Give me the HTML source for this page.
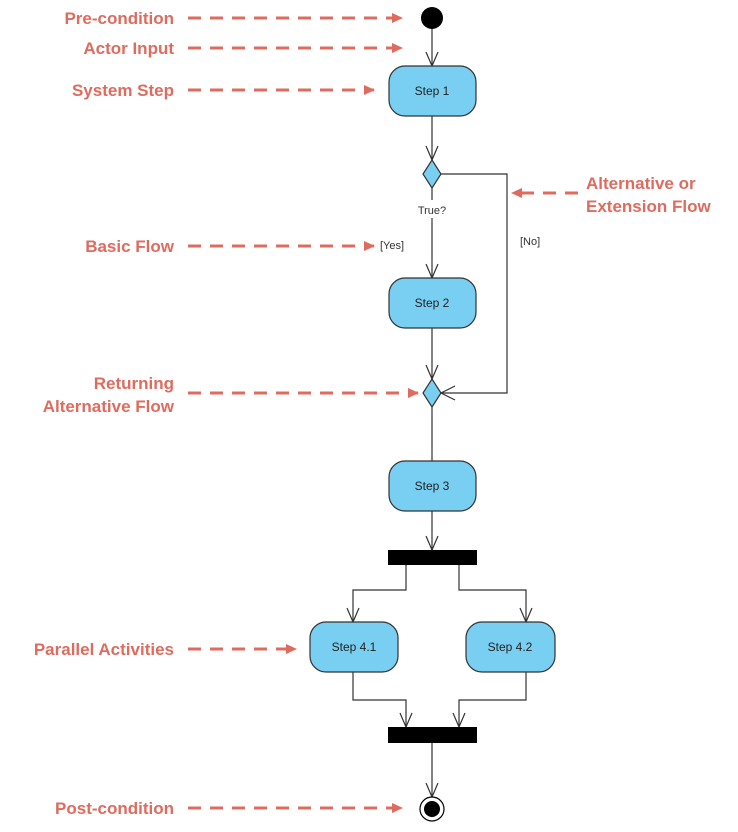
<!DOCTYPE html>
<html><head><meta charset="utf-8"><style>
html,body{margin:0;padding:0;background:#fff;}
svg{display:block;}
.lbl{font-family:"Liberation Sans",sans-serif;font-weight:bold;font-size:17px;fill:#df6b5f;}
.st{font-family:"Liberation Sans",sans-serif;font-size:12px;fill:#222;}
.sm{font-family:"Liberation Sans",sans-serif;font-size:11px;fill:#333;}
</style></head><body>
<svg width="738" height="832" viewBox="0 0 738 832" xmlns="http://www.w3.org/2000/svg">
<defs>
<marker id="ra" markerWidth="12" markerHeight="12" refX="10" refY="6" orient="auto" markerUnits="userSpaceOnUse"><path d="M0,1 L11,6 L0,11 z" fill="#df6b5f"/></marker>
</defs>
<g stroke="#df6b5f" stroke-width="3" stroke-dasharray="13,9" fill="none" marker-end="url(#ra)">
<line x1="188" y1="18" x2="402" y2="18"/>
<line x1="188" y1="48" x2="402" y2="48"/>
<line x1="188" y1="90" x2="374" y2="90"/>
<line x1="188" y1="246" x2="374" y2="246"/>
<line x1="188" y1="393" x2="418" y2="393"/>
<line x1="188" y1="649" x2="296" y2="649"/>
<line x1="188" y1="808" x2="402" y2="808"/>
<line x1="578" y1="193" x2="512" y2="193"/>
</g>
<g class="lbl" text-anchor="end">
<text x="174" y="24">Pre-condition</text>
<text x="174" y="54">Actor Input</text>
<text x="174" y="96">System Step</text>
<text x="174" y="252">Basic Flow</text>
<text x="174" y="389">Returning</text>
<text x="174" y="412">Alternative Flow</text>
<text x="174" y="655">Parallel Activities</text>
<text x="174" y="814">Post-condition</text>
</g>
<g class="lbl"><text x="586" y="189">Alternative or</text><text x="586" y="212">Extension Flow</text></g>

<g stroke="#333" stroke-width="1.2" fill="none">
<line x1="432" y1="29" x2="432" y2="66"/>
<path d="M426,52 L432,66 L438,52"/>
<line x1="432" y1="116" x2="432" y2="160"/>
<path d="M426,146 L432,160 L438,146"/>
<line x1="432" y1="188" x2="432" y2="200"/>
<line x1="432" y1="218" x2="432" y2="278"/>
<path d="M426,264 L432,278 L438,264"/>
<line x1="432" y1="328" x2="432" y2="379"/>
<path d="M426,365 L432,379 L438,365"/>
<path d="M441,174 L507,174 L507,393 L441,393"/>
<path d="M455,386 L441,393 L455,400"/>
<line x1="432" y1="407" x2="432" y2="461"/>
<line x1="432" y1="511" x2="432" y2="550"/>
<path d="M426,536 L432,550 L438,536"/>
<path d="M406,565 L406,590 L353,590 L353,622"/>
<path d="M347,608 L353,622 L359,608"/>
<path d="M459,565 L459,590 L526,590 L526,622"/>
<path d="M520,608 L526,622 L532,608"/>
<path d="M353,672 L353,700 L406,700 L406,727"/>
<path d="M400,713 L406,727 L412,713"/>
<path d="M526,672 L526,700 L459,700 L459,727"/>
<path d="M453,713 L459,727 L465,713"/>
<line x1="432" y1="743" x2="432" y2="797"/>
<path d="M426,783 L432,797 L438,783"/>
</g>
<circle cx="432" cy="18" r="11" fill="#000"/>
<g fill="#79cff2" stroke="#333" stroke-width="1.2">
<rect x="389" y="66" width="87" height="50" rx="16"/>
<rect x="389" y="278" width="87" height="50" rx="16"/>
<rect x="389" y="461" width="87" height="50" rx="16"/>
<rect x="310" y="622" width="88" height="50" rx="16"/>
<rect x="466" y="622" width="89" height="50" rx="16"/>
<path d="M432,160 L441,174 L432,188 L423,174 z"/>
<path d="M432,379 L441,393 L432,407 L423,393 z"/>
</g>
<rect x="388" y="550" width="89" height="15" fill="#000"/>
<rect x="388" y="727" width="89" height="16" fill="#000"/>
<circle cx="432" cy="809" r="12" fill="#fff" stroke="#000" stroke-width="1.2"/>
<circle cx="432" cy="809" r="8" fill="#000"/>
<g class="st" text-anchor="middle">
<text x="432" y="95">Step 1</text>
<text x="432" y="307">Step 2</text>
<text x="432" y="490">Step 3</text>
<text x="354" y="651">Step 4.1</text>
<text x="510" y="651">Step 4.2</text>
</g>
<g class="sm">
<text x="432" y="214" text-anchor="middle">True?</text>
<text x="380" y="249">[Yes]</text>
<text x="520" y="245">[No]</text>
</g>
</svg>
</body></html>
